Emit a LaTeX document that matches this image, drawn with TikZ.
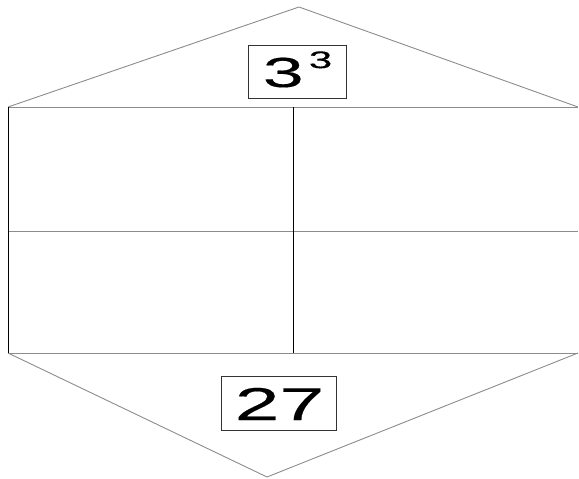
\documentclass[tikz,border=0pt]{standalone}
\usepackage{fontspec}
\setmainfont{Liberation Sans}[FakeBold=0.3]
\begin{document}
\begin{tikzpicture}[x=1pt,y=-1pt,
  thinline/.style={draw=black!45,line width=0.9pt},
  darkline/.style={draw=black,line width=1pt},
  numbox/.style={draw=black!80,line width=0.8pt,inner sep=0pt,anchor=center},
  numtext/.style={inner sep=0pt,anchor=base}]
\useasboundingbox (0,0) rectangle (579,479);
\coordinate (T) at (299,7);
\coordinate (TL) at (8,107);
\coordinate (TR) at (578,107);
\coordinate (ML) at (8,231);
\coordinate (MR) at (578,231);
\coordinate (BL) at (8,353);
\coordinate (BR) at (578,353);
\coordinate (B) at (267,477);
\coordinate (VT) at (293,107);
\coordinate (VB) at (293,353);
\draw[thinline] (TL) -- (T) -- (TR);
\draw[thinline] (TL) -- (TR);
\draw[thinline] (ML) -- (MR);
\draw[thinline] (BL) -- (BR);
\draw[thinline] (BL) -- (B) -- (BR);
\draw[darkline] (TL) -- (BL);
\draw[darkline] (VT) -- (VB);
\node[numbox,minimum width=98pt,minimum height=53pt] (top) at (297,71.5) {};
\node[numtext] (toptext) at (297.5,87)
  {\scalebox{1.75}[1]{\fontsize{42pt}{42pt}\selectfont 3\hspace{0.07em}\raisebox{0.45em}{\fontsize{24pt}{24pt}\selectfont 3}}};
\node[numbox,minimum width=115pt,minimum height=54pt] (bot) at (278.5,403) {};
\node[numtext] (bottext) at (279.5,420)
  {\scalebox{1.75}[1]{\fontsize{46pt}{46pt}\selectfont 27}};
\end{tikzpicture}
\end{document}
